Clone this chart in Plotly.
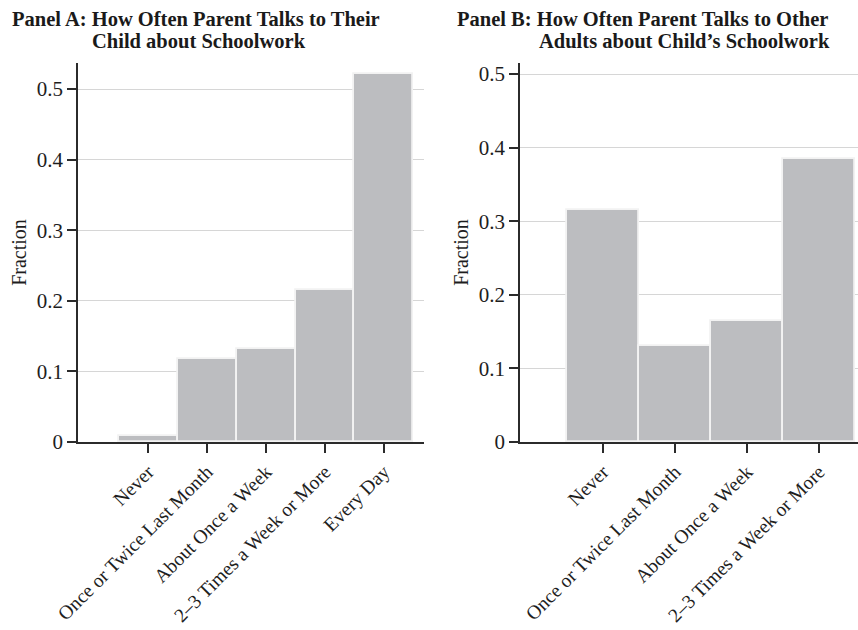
import plotly.graph_objects as go
from plotly.subplots import make_subplots

# Response categories
cats_a = ["Never", "Once or Twice Last Month", "About Once a Week",
          "2–3 Times a Week or More", "Every Day"]
cats_b = ["Never", "Once or Twice Last Month", "About Once a Week",
          "2–3 Times a Week or More"]

# Fraction of parents in each category
frac_a = [0.009, 0.117, 0.132, 0.216, 0.521]
frac_b = [0.315, 0.130, 0.164, 0.384]

yticks = [0, 0.1, 0.2, 0.3, 0.4, 0.5]
ytick_text = ["0", "0.1", "0.2", "0.3", "0.4", "0.5"]

FONT = "Liberation Serif"
BAR = "#bcbdc0"
AXIS = "#2b2b2b"

fig = make_subplots(rows=1, cols=2)

fig.add_trace(go.Bar(x=cats_a, y=frac_a, marker=dict(color=BAR, line=dict(color="#f2f2f2", width=1.8)),
                     width=1.0, showlegend=False), row=1, col=1)
fig.add_trace(go.Bar(x=cats_b, y=frac_b, marker=dict(color=BAR, line=dict(color="#f2f2f2", width=1.8)),
                     width=1.0, showlegend=False), row=1, col=2)

common_x = dict(type="category", showline=True, linecolor=AXIS, linewidth=1.5,
                ticks="outside", ticklen=9, tickwidth=1.5, tickcolor=AXIS,
                tickangle=-45, showgrid=False, automargin=False,
                tickfont=dict(family=FONT, size=19.5, color="#1e1e1e"))
common_y = dict(showline=True, linecolor=AXIS, linewidth=1.5,
                ticks="outside", ticklen=9, tickwidth=1.5, tickcolor=AXIS,
                tickvals=yticks, ticktext=ytick_text, showgrid=True,
                gridcolor="#d6d6d6", gridwidth=1, zeroline=False, automargin=False,
                tickfont=dict(family=FONT, size=21, color="#1e1e1e"),
                title=dict(text="Fraction", font=dict(family=FONT, size=20, color="#1e1e1e"), standoff=5))

fig.update_xaxes(common_x)
fig.update_yaxes(common_y)
fig.update_xaxes(domain=[78 / 858, 424 / 858], range=[-1.19, 4.68], row=1, col=1)
fig.update_xaxes(domain=[520 / 858, 1.0], range=[-1.15, 3.54], row=1, col=2)
fig.update_yaxes(domain=[(630 - 442) / 630, (630 - 63) / 630], range=[0, 0.537], row=1, col=1)
fig.update_yaxes(domain=[(630 - 442) / 630, (630 - 63) / 630], range=[0, 0.515], row=1, col=2)

title_font = dict(family=FONT, size=20.5, color="#1a1a1a")
titles = [
    (11 / 858, 19, "<b>Panel A: How Often Parent Talks to Their</b>"),
    (91 / 858, 41, "<b>Child about Schoolwork</b>"),
    (456 / 858, 19, "<b>Panel B: How Often Parent Talks to Other</b>"),
    (538 / 858, 41, "<b>Adults about Child’s Schoolwork</b>"),
]
for x, ypx, txt in titles:
    fig.add_annotation(x=x, y=(630 - ypx) / 630, xref="paper", yref="paper",
                       xanchor="left", yanchor="middle", text=txt, showarrow=False,
                       font=title_font, borderpad=0)

fig.update_layout(width=858, height=630, margin=dict(l=0, r=0, t=0, b=0),
                  paper_bgcolor="white", plot_bgcolor="white", bargap=0)

fig.write_html("out.html")
